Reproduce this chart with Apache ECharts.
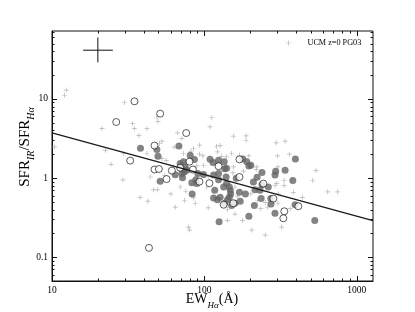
<!DOCTYPE html>
<html><head><meta charset="utf-8">
<script src="https://cdn.jsdelivr.net/npm/echarts@6/dist/echarts.min.js"></script>
<style>html,body{margin:0;padding:0;background:#fff}#c{width:415px;height:312px}</style>
</head><body><div id="c"></div>
<script>
// ---- data (EW_Halpha [Å], SFR_IR/SFR_Halpha) ----
const plusPoints = [[12.4,12.9],[12.1,11.1],[29.9,9.0],[21.3,4.2],[33.8,4.9],[34.7,4.2],[37.2,3.45],[42.0,4.2],[48.8,5.9],[49.6,5.2],[50.8,2.73],[52.7,2.92],[66.7,3.72],[71.2,3.16],[63.4,2.45],[84.9,2.36],[92.9,2.6],[109,4.43],[10.4,2.47],[112,5.77],[155,3.38],[188,3.41],[188,3.0],[120,2.52],[127,2.57],[296,2.78],[339,2.92],[22.4,2.24],[24.4,1.49],[29.2,0.95],[29.5,2.04],[37.9,0.57],[42.6,0.51],[42.0,2.04],[46.4,0.71],[49.3,0.71],[44.1,1.03],[64.4,0.43],[60.3,0.63],[69.4,0.77],[74.1,0.52],[75.6,0.68],[84.9,0.56],[87.1,0.48],[78.7,0.24],[79.9,0.22],[73.0,2.04],[92.9,2.0],[98.7,1.45],[106,1.05],[55.1,1.08],[56.2,1.66],[62.5,1.38],[52.7,1.76],[97.8,1.9],[130,1.88],[140,1.85],[170,1.94],[196,1.9],[302,1.9],[362,2.0],[155,1.38],[221,1.38],[154,1.16],[299,0.85],[334,0.93],[515,0.93],[541,1.25],[646,0.67],[751,0.67],[306,0.63],[251,0.49],[106,0.42],[142,0.40],[159,0.35],[178,0.29],[142,0.29],[322,0.24],[205,0.22],[251,0.19],[304,0.48],[261,0.43],[366,0.41],[165,0.59],[440,0.57],[384,0.66],[122,2.14],[151,2.04],[159,0.77],[181,1.22],[202,0.63],[219,1.28],[224,0.52],[235,0.41],[291,0.81],[304,1.38],[334,0.80],[89.3,1.42],[81.6,2.18],[104,0.77]];
const filledPoints = [[38.1,2.38],[48.8,2.29],[49.6,1.88],[68.1,2.54],[51.3,0.91],[64.4,1.10],[69.4,1.52],[71.2,1.14],[73.8,1.19],[73.0,1.60],[74.9,1.38],[76.8,1.25],[71.9,1.01],[80.8,1.94],[82.8,0.87],[83.2,0.63],[86.1,1.71],[88.0,0.95],[89.3,0.85],[90.7,1.14],[98.7,1.11],[109,1.72],[114,1.57],[124,1.68],[135,1.61],[136,1.31],[140,1.33],[179,1.74],[190,1.61],[196,1.42],[202,1.45],[239,1.17],[294,1.22],[291,1.09],[339,1.25],[396,1.74],[381,0.93],[394,0.46],[531,0.29],[125,0.28],[196,0.33],[213,0.45],[291,0.36],[274,0.47],[273,0.55],[263,0.77],[239,0.82],[232,0.70],[215,0.71],[210,0.89],[186,0.63],[170,0.66],[159,0.48],[151,0.45],[148,0.70],[149,0.63],[146,0.57],[142,0.53],[136,0.48],[146,0.77],[140,0.85],[134,0.77],[124,0.95],[115,1.09],[124,1.14],[139,1.03],[117,0.70],[115,0.56],[122,0.53],[127,0.57],[162,0.99],[222,1.02],[236,0.55],[172,0.51]];
const openPoints = [[34.8,9.3],[26.4,5.1],[51.3,6.5],[76,3.7],[32.6,1.66],[47.1,2.57],[47.1,1.28],[50.3,1.30],[56.5,0.97],[61.2,1.24],[69.4,1.35],[79.9,1.61],[84.1,1.28],[92.9,0.90],[108,0.86],[43.3,0.131],[124,1.41],[170,1.72],[170,1.03],[244,0.85],[155,0.48],[134,0.46],[284,0.55],[335,0.38],[330,0.31],[414,0.44]];
const fitLine = [[10,3.72],[1280,0.29]];
const errCenter = [20, 41.2];
const errX = [16, 25.1];
const errY = [29, 59.7];
const xRange = [10, 1280];
const yRange = [0.05, 72];
const xMajorTicks = [10, 100, 1000];
const xMinorTicks = [20,30,40,50,60,70,80,90,200,300,400,500,600,700,800,900];
const yMajorTicks = [0.1, 1, 10];
const yMinorTicks = [0.06,0.07,0.08,0.09,0.2,0.3,0.4,0.5,0.6,0.7,0.8,0.9,2,3,4,5,6,7,8,9,20,30,40,50,60,70];
const legendLabel = 'UCM z=0 PG03';

const SERIF = '"Liberation Serif", "DejaVu Serif", serif';
const AX = '#111';
const plusPath = 'path://M4.3,0H5.7V10H4.3Z M0,4.3H10V5.7H0Z';

function tickSeries(values, axis, len) {
  return {
    type: 'custom', silent: true, z: 6, clip: false, animation: false,
    data: values.map(v => axis === 'x' ? [v, 1] : [100, v]),
    renderItem(params, api) {
      const cs = params.coordSys;
      const p = api.coord([api.value(0), api.value(1)]);
      const st = { stroke: AX, lineWidth: 1 };
      if (axis === 'x') {
        const x = Math.round(p[0]) + 0.5, yb = cs.y + cs.height, yt = cs.y;
        return { type: 'group', children: [
          { type: 'line', shape: { x1: x, y1: yb, x2: x, y2: yb - len }, style: st },
          { type: 'line', shape: { x1: x, y1: yt, x2: x, y2: yt + len }, style: st }
        ]};
      }
      const y = Math.round(p[1]) + 0.5, xl = cs.x, xr = cs.x + cs.width;
      return { type: 'group', children: [
        { type: 'line', shape: { x1: xl, y1: y, x2: xl + len, y2: y }, style: st },
        { type: 'line', shape: { x1: xr, y1: y, x2: xr - len, y2: y }, style: st }
      ]};
    }
  };
}

const fmt = v => String(+(+v).toPrecision(3));

const chart = echarts.init(document.getElementById('c'), null, { renderer: 'canvas' });
chart.setOption({
  animation: false,
  backgroundColor: '#fff',
  grid: { left: 52, top: 31, right: 42, bottom: 31, show: true, borderColor: AX, borderWidth: 1, containLabel: false },
  xAxis: {
    type: 'log', logBase: 10, min: xRange[0], max: xRange[1],
    axisLine: { show: true, lineStyle: { color: AX, width: 1 } },
    axisTick: { show: false }, splitLine: { show: false }, minorTick: { show: false },
    axisLabel: { formatter: fmt, fontFamily: SERIF, fontSize: 9.5, color: '#000', margin: 4, showMaxLabel: false, showMinLabel: true }
  },
  yAxis: {
    type: 'log', logBase: 10, min: yRange[0], max: yRange[1],
    axisLine: { show: true, lineStyle: { color: AX, width: 1 } },
    axisTick: { show: false }, splitLine: { show: false }, minorTick: { show: false },
    axisLabel: { formatter: fmt, fontFamily: SERIF, fontSize: 9.5, color: '#000', margin: 4, showMaxLabel: false, showMinLabel: false }
  },
  legend: {
    data: [legendLabel], left: 286, top: 39, padding: 0, itemGap: 0,
    itemWidth: 28, itemHeight: 5, selectedMode: false,
    textStyle: { fontFamily: SERIF, fontSize: 8.2, color: '#000' }
  },
  series: [
    { name: legendLabel, type: 'scatter', data: plusPoints, symbol: plusPath, symbolSize: 5,
      itemStyle: { color: '#a3a3a3' }, z: 2 },
    { name: 'filled', type: 'scatter', data: filledPoints, symbol: 'circle', symbolSize: 7,
      itemStyle: { color: '#646464' }, z: 3 },
    { name: 'open', type: 'scatter', data: openPoints, symbol: 'circle', symbolSize: 7,
      itemStyle: { color: '#fff', borderColor: '#000', borderWidth: 0.8 }, z: 4 },
    { name: 'fit', type: 'line', data: fitLine, showSymbol: false, symbol: 'none',
      lineStyle: { color: '#1a1a1a', width: 1.3 }, z: 5 },
    { name: 'errx', type: 'line', data: [[errX[0], errCenter[1]], [errX[1], errCenter[1]]], symbol: 'none',
      lineStyle: { color: '#111', width: 1 }, z: 5 },
    { name: 'erry', type: 'line', data: [[errCenter[0], errY[0]], [errCenter[0], errY[1]]], symbol: 'none',
      lineStyle: { color: '#111', width: 1 }, z: 5 },
    tickSeries(xMajorTicks, 'x', 5),
    tickSeries(xMinorTicks, 'x', 2.5),
    tickSeries(yMajorTicks, 'y', 5),
    tickSeries(yMinorTicks, 'y', 2.5)
  ],
  graphic: [
    { type: 'text', x: 212, y: 301, silent: true,
      style: { text: '{n|EW}{s|Hα}{n|(Å)}', align: 'center', verticalAlign: 'middle',
        rich: {
          n: { fontFamily: SERIF, fontSize: 14, color: '#000', verticalAlign: 'bottom', padding: [0,0,4,0] },
          s: { fontFamily: SERIF, fontSize: 9, fontStyle: 'italic', color: '#000', verticalAlign: 'bottom' }
        } } },
    { type: 'text', x: 27, y: 147, rotation: Math.PI / 2, silent: true,
      style: { text: '{n|SFR}{s|IR}{n|/SFR}{s|Hα}', align: 'center', verticalAlign: 'middle',
        rich: {
          n: { fontFamily: SERIF, fontSize: 15, color: '#000', verticalAlign: 'bottom', padding: [0,0,4,0] },
          s: { fontFamily: SERIF, fontSize: 10, fontStyle: 'italic', color: '#000', verticalAlign: 'bottom' }
        } } }
  ]
});
</script></body></html>
